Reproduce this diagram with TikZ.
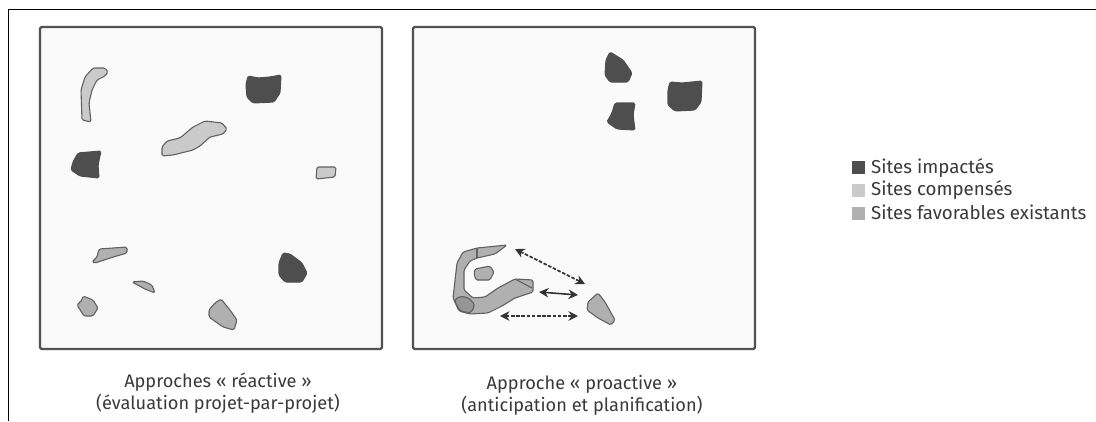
\documentclass[tikz,border=0pt]{standalone}
\usepackage{fontspec}
\setmainfont{Fira Sans}
\usetikzlibrary{arrows.meta}
\definecolor{ink}{HTML}{3A3A3A}
\definecolor{impact}{HTML}{4E4E4E}
\definecolor{comp}{HTML}{CACACA}
\definecolor{fav}{HTML}{B0B0B0}
\definecolor{panelbg}{HTML}{FAFAFA}
\tikzset{
  x=1pt,y=-1pt,
  panel/.style={draw=black!68,line width=2.4pt,fill=panelbg,rounded corners=1.5pt},
  blob/.style={rounded corners=1.5pt,line width=1.1pt,line join=round},
  impacted/.style={blob,fill=impact,draw=impact},
  compensated/.style={blob,fill=comp,draw=black!62},
  favourable/.style={blob,fill=fav,draw=black!62},
  divider/.style={draw=black!62,line width=1.1pt},
  link/.style={draw=black!80,line width=1.6pt,{Stealth[length=9.5pt,width=9.5pt]}-{Stealth[length=9.5pt,width=9.5pt]}},
  dashlink/.style={link,dash pattern=on 3.6pt off 1.6pt},
  caption/.style={font=\fontsize{18.2}{22}\selectfont,text=ink,align=center,inner sep=0pt},
  legendtext/.style={font=\fontsize{18.7}{22}\selectfont,text=ink,anchor=west,inner sep=0pt},
  swatch/.style={minimum width=13pt,minimum height=13pt,inner sep=0pt,anchor=west}
}
\begin{document}
\begin{tikzpicture}
\useasboundingbox (0,0) rectangle (1096,421);
\fill[white] (0,0) rectangle (1096,421);
% outer frame
\coordinate (fb) at (8,421); \coordinate (fc) at (8,9); \coordinate (fe) at (1096,9);
\draw[black,line width=1pt] (fb) -- (fc) -- (fe);
% panels
\draw[panel] (40,27) rectangle (382,349);
\draw[panel] (413,27) rectangle (755,349);
% left panel
\draw[compensated] (93,68) -- (105,68) -- (108,72) -- (105,76) -- (97,80) -- (92,90) -- (89,103) -- (91,122) -- (82,120) -- (81,90) -- (85,77) -- cycle;
\draw[impacted] (78,153) -- (101,151) -- (98,165) -- (99,178) -- (80,176) -- (71,170) -- (73,162) -- cycle;
\draw[compensated] (162,147) -- (167,141) -- (180,138) -- (193,127) -- (205,121) -- (222,123) -- (227,129) -- (223,134) -- (210,137) -- (200,146) -- (193,150) -- (173,155) -- (162,156) -- cycle;
\draw[impacted] (248,76) -- (258,78) -- (270,77) -- (281,75) -- (280,93) -- (274,102) -- (253,103) -- (247,97) -- (246,85) -- cycle;
\draw[compensated] (317,167) -- (336,167) -- (335,177) -- (316,179) -- cycle;
\draw[favourable] (99,249) -- (127,247) -- (127,253) -- (110,258) -- (95,263) -- (92,262) -- (97,257) -- cycle;
\draw[favourable] (132,282) -- (143,281) -- (152,285) -- (155,293) -- (145,289) -- cycle;
\draw[favourable] (83,296) -- (93,300) -- (98,308) -- (93,316) -- (84,316) -- (77,305) -- (82,300) -- cycle;
\draw[favourable] (221,299) -- (230,310) -- (237,320) -- (234,330) -- (223,327) -- (209,317) -- (209,310) -- (215,303) -- cycle;
\draw[impacted] (283,253) -- (290,254) -- (302,263) -- (307,273) -- (302,282) -- (285,282) -- (279,275) -- (279,263) -- cycle;
% right panel
\draw[impacted] (610,52) -- (623,60) -- (632,73) -- (628,82) -- (610,82) -- (605,75) -- (606,60) -- cycle;
\draw[impacted] (615,103) -- (635,103) -- (633,115) -- (635,130) -- (617,129) -- (607,122) -- (612,113) -- cycle;
\draw[impacted] (670,82) -- (682,83) -- (702,81) -- (701,102) -- (695,110) -- (675,111) -- (668,105) -- (668,90) -- cycle;
\draw[favourable] (507,245) -- (477,248) -- (463,252) -- (457,263) -- (453,298) -- (459,311) -- (470,314) -- (488,313) -- (502,306) -- (515,298) -- (533,292) -- (533,280) -- (515,279) -- (498,288) -- (485,297) -- (473,298) -- (464,290) -- (464,270) -- (470,261) -- (477,258) -- (495,254) -- cycle;
\draw[divider] (477,248) -- (477,258);
\draw[divider] (515,279) -- (532,288);
\draw[divider,fill=fav!85!black,rounded corners=3pt] (461,296) -- (469,298) -- (475,305) -- (471,313) -- (460,311) -- (454,300) -- cycle;
\draw[compensated,fill=fav] (475,269) -- (490,266) -- (494,272) -- (490,280) -- (476,280) -- (474,274) -- cycle;
\draw[favourable] (598,293) -- (605,302) -- (615,320) -- (611,325) -- (598,318) -- (587,310) -- (588,302) -- cycle;
% links
\coordinate (a1) at (515,249); \coordinate (a2) at (585,284);
\coordinate (b1) at (539,292); \coordinate (b2) at (578,295);
\coordinate (c1) at (500,316); \coordinate (c2) at (578,316);
\draw[dashlink] (a1) -- (a2);
\draw[link] (b1) -- (b2);
\draw[dashlink] (c1) -- (c2);
% captions
\node[caption] (capl) at (218,393) {Approches « réactive »\\(évaluation projet-par-projet)};
\node[caption] (capr) at (582,395) {Approche « proactive »\\(anticipation et planification)};
% legend
\node[swatch,fill=impact] (s1) at (852,167) {};
\node[swatch,fill=comp] (s2) at (852,190) {};
\node[swatch,fill=fav] (s3) at (852,213) {};
\node[legendtext] (t1) at (871,168) {Sites impactés};
\node[legendtext] (t2) at (871,190) {Sites compensés};
\node[legendtext] (t3) at (871,212) {Sites favorables existants};
\end{tikzpicture}
\end{document}
